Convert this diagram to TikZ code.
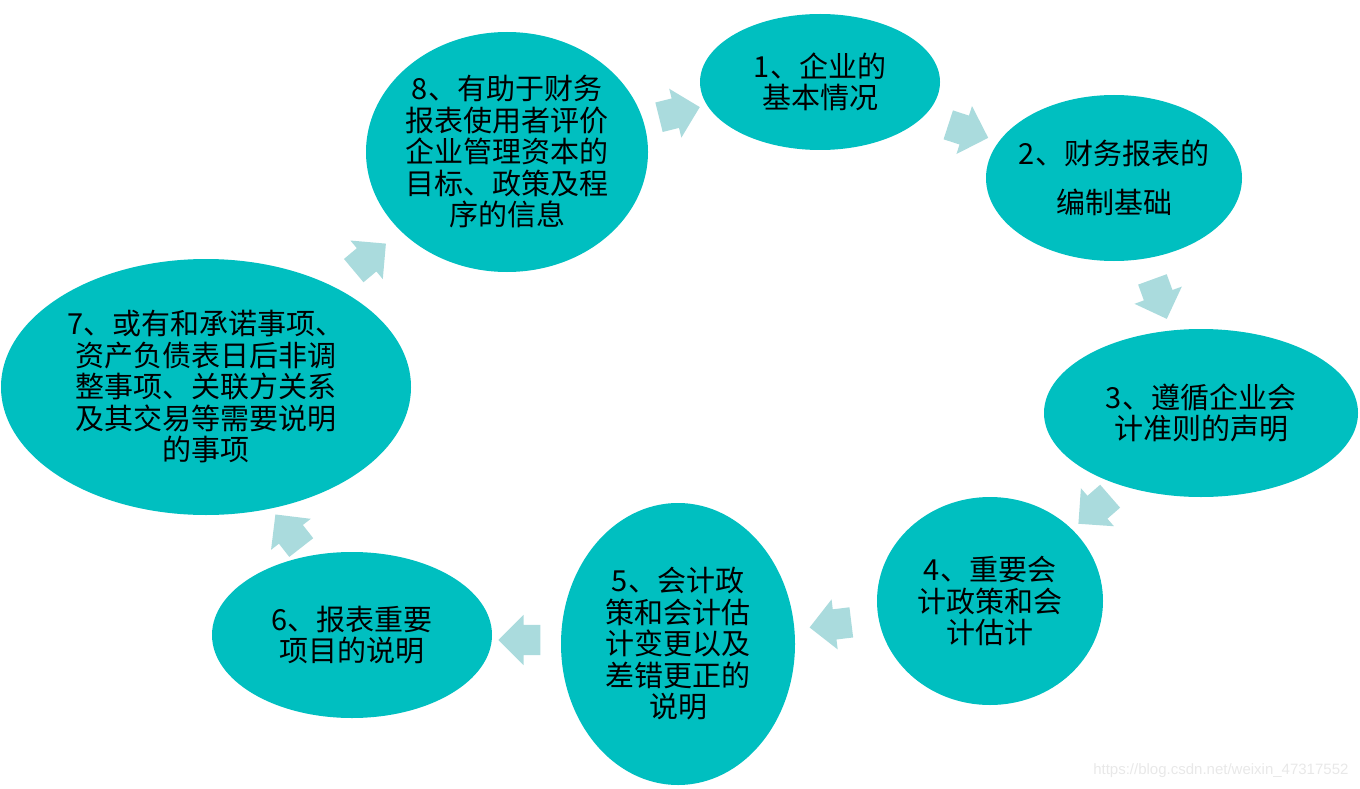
\documentclass[tikz,border=0pt]{standalone}
\usepackage{fontspec}
\setmainfont{Noto Sans CJK SC}
\newfontfamily\wmfont{Liberation Sans}
\usepackage{tikz}
\usetikzlibrary{shapes.geometric, shapes.arrows, positioning, calc}
\definecolor{tealfill}{RGB}{0,191,192}
\definecolor{arrowfill}{RGB}{170,219,221}
\definecolor{markgray}{RGB}{232,232,232}

\begin{document}
\begin{tikzpicture}[
    x=1pt, y=-1pt,
    bubble/.style={ellipse, fill=tealfill, inner sep=-30pt, align=center, font=\fontsize{29}{31.5}\selectfont},
    flowarrow/.style={single arrow, fill=arrowfill, inner xsep=0pt, inner ysep=15pt, minimum height=42pt, single arrow head extend=10pt, single arrow tip angle=90}
]
\useasboundingbox (0,0) rectangle (1360,789);

% Nodes
\node [bubble, minimum width=240pt, minimum height=136pt] (basic) at (820,82) {1、企业的\\基本情况};
\node [bubble, minimum width=256pt, minimum height=166pt] (basis) at (1114,178) {2、财务报表的\\[18pt]编制基础};
\node [bubble, minimum width=314pt, minimum height=168pt] (comply) at (1201,413) {3、遵循企业会\\计准则的声明};
\node [bubble, minimum width=226pt, minimum height=208pt] (policy) at (990,601) {4、重要会\\计政策和会\\计估计};
\node [bubble, minimum width=234pt, minimum height=282pt] (change) at (678,644) {5、会计政\\策和会计估\\计变更以及\\差错更正的\\说明};
\node [bubble, minimum width=280pt, minimum height=166pt] (items) at (352,635) {6、报表重要\\项目的说明};
\node [bubble, minimum width=410pt, minimum height=256pt] (contingent) at (206,387) {7、或有和承诺事项、\\资产负债表日后非调\\整事项、关联方关系\\及其交易等需要说明\\的事项};
\node [bubble, minimum width=282pt, minimum height=240pt] (capital) at (507,152) {8、有助于财务\\报表使用者评价\\企业管理资本的\\目标、政策及程\\序的信息};

% Arrows
\node [flowarrow, rotate=14] (a81) at (672,114) {};
\node [flowarrow, rotate=-18] (a12) at (961,129) {};
\node [flowarrow, rotate=-70] (a23) at (1157,292) {};
\node [flowarrow, rotate=-139] (a34) at (1100,505) {};
\node [flowarrow, rotate=-173] (a45) at (838,624) {};
\node [flowarrow, rotate=180] (a56) at (527,640) {};
\node [flowarrow, rotate=128] (a67) at (293,537) {};
\node [flowarrow, rotate=40] (a78) at (364,262) {};

\node [font=\wmfont\fontsize{15}{18}\selectfont, text=markgray, anchor=east] (mark) at (1352,771) {https://blog.csdn.net/weixin\_47317552};

\end{tikzpicture}
\end{document}
